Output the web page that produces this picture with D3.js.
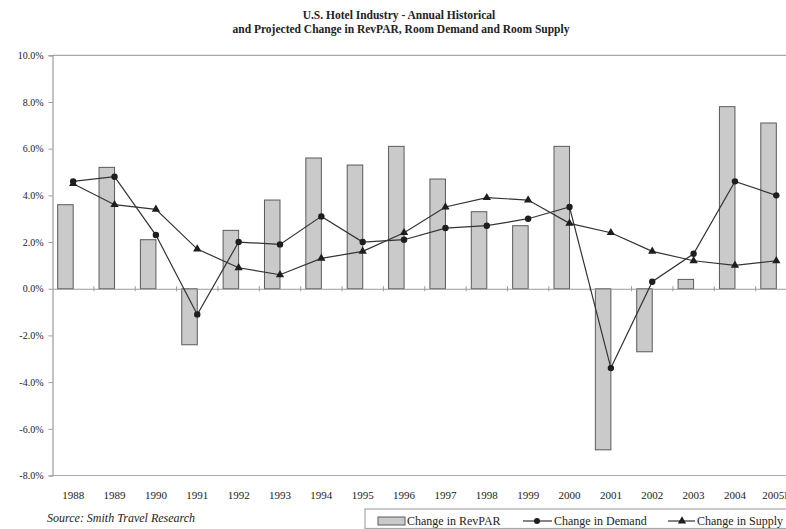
<!DOCTYPE html>
<html>
<head>
<meta charset="utf-8">
<script src="https://cdn.jsdelivr.net/npm/d3@7"></script>
<style>
  body { margin: 0; background: #fff; }
  svg { display: block; overflow: hidden; }
  text { font-family: "Liberation Serif", "Times New Roman", serif; fill: #222; }
  .axis path, .axis line { stroke: #9a9a9a; }
</style>
</head>
<body>
<div class="chart"></div>
<script>
// DATA
var years = ["1988","1989","1990","1991","1992","1993","1994","1995","1996","1997","1998","1999","2000","2001","2002","2003","2004","2005F"];
var revpar = [3.6, 5.2, 2.1, -2.4, 2.5, 3.8, 5.6, 5.3, 6.1, 4.7, 3.3, 2.7, 6.1, -6.9, -2.7, 0.4, 7.8, 7.1];
var demand = [4.6, 4.8, 2.3, -1.1, 2.0, 1.9, 3.1, 2.0, 2.1, 2.6, 2.7, 3.0, 3.5, -3.4, 0.3, 1.5, 4.6, 4.0];
var supply = [4.5, 3.6, 3.4, 1.7, 0.9, 0.6, 1.3, 1.6, 2.4, 3.5, 3.9, 3.8, 2.8, 2.4, 1.6, 1.2, 1.0, 1.2];
var yTicks = [-8, -6, -4, -2, 0, 2, 4, 6, 8, 10];
var legendLabels = ["Change in RevPAR", "Change in Demand", "Change in Supply"];

var width = 786, height = 529;
// plot area runs past the right edge, like the cropped original
var plot = {left: 52.5, right: 797, top: 55.3, bottom: 475.5};

var svg = d3.select(".chart").append("svg")
    .attr("width", width)
    .attr("height", height);

// title
var title = svg.append("text")
    .attr("text-anchor", "middle")
    .style("font-weight", "bold")
    .style("font-size", "11.5px");
title.append("tspan").attr("x", 399).attr("y", 19).text("U.S. Hotel Industry - Annual Historical");
title.append("tspan").attr("x", 401).attr("y", 33).text("and Projected Change in RevPAR, Room Demand and Room Supply");

// scales
var x = d3.scaleBand()
    .domain(years)
    .range([plot.left, plot.right]);

var y = d3.scaleLinear()
    .domain([-8, 10])
    .range([plot.bottom, plot.top]);

var barWidth = x.bandwidth() * 0.375;
var cx = function(d, i) { return x(years[i]) + x.bandwidth() / 2; };

// plot area border (top and bottom)
svg.append("line")
    .attr("x1", plot.left).attr("x2", plot.right)
    .attr("y1", y(10)).attr("y2", y(10))
    .attr("stroke", "#a8a8a8").attr("stroke-width", 1.2);
svg.append("line")
    .attr("x1", plot.left).attr("x2", plot.right)
    .attr("y1", y(-8)).attr("y2", y(-8))
    .attr("stroke", "#a8a8a8").attr("stroke-width", 1.2);

// bars
svg.selectAll(".bar")
    .data(revpar)
  .enter().append("rect")
    .attr("class", "bar")
    .attr("x", function(d, i) { return cx(d, i) - barWidth; })
    .attr("y", function(d) { return y(Math.max(0, d)); })
    .attr("width", barWidth)
    .attr("height", function(d) { return Math.abs(y(d) - y(0)); })
    .attr("fill", "#cacaca")
    .attr("stroke", "#5a5a5a")
    .attr("stroke-width", 1);

// y axis
var yAxis = svg.append("g")
    .attr("class", "axis")
    .attr("transform", "translate(" + plot.left + ",0)")
    .call(d3.axisLeft(y).tickValues(yTicks).tickSize(4).tickPadding(5)
        .tickFormat(function(d) { return d.toFixed(1) + "%"; }));
yAxis.select(".domain").attr("stroke-width", 1.2);
yAxis.selectAll("text")
    .style("font-size", "10px")
    .style("font-family", "'Liberation Serif', serif")
    .attr("fill", "#222");

// x axis on the zero line, ticks between categories crossing the line
var xAxis = svg.append("g")
    .attr("class", "axis")
    .attr("transform", "translate(0," + y(0) + ")")
    .call(d3.axisBottom(x).tickSize(0).tickFormat(""));
xAxis.select(".domain").attr("stroke-width", 1.2);
xAxis.selectAll(".sep")
    .data(years.slice(1))
  .enter().append("line")
    .attr("class", "sep")
    .attr("x1", function(d) { return x(d); })
    .attr("x2", function(d) { return x(d); })
    .attr("y1", -2.5).attr("y2", 2.5);

// year labels along the bottom
svg.selectAll(".year")
    .data(years)
  .enter().append("text")
    .attr("class", "year")
    .attr("x", function(d) { return x(d) + x.bandwidth() / 2; })
    .attr("y", 499)
    .attr("text-anchor", "middle")
    .style("font-size", "11px")
    .text(function(d) { return d; });

// lines
var line = d3.line()
    .x(function(d, i) { return cx(d, i); })
    .y(function(d) { return y(d); });

svg.append("path")
    .datum(supply)
    .attr("fill", "none")
    .attr("stroke", "#333")
    .attr("stroke-width", 1.2)
    .attr("d", line);

svg.append("path")
    .datum(demand)
    .attr("fill", "none")
    .attr("stroke", "#333")
    .attr("stroke-width", 1.2)
    .attr("d", line);

var tri = d3.symbol().type(d3.symbolTriangle).size(30);

svg.selectAll(".tri")
    .data(supply)
  .enter().append("path")
    .attr("class", "tri")
    .attr("transform", function(d, i) { return "translate(" + cx(d, i) + "," + y(d) + ")"; })
    .attr("d", tri)
    .attr("fill", "#1e1e1e");

svg.selectAll(".dot")
    .data(demand)
  .enter().append("circle")
    .attr("class", "dot")
    .attr("cx", function(d, i) { return cx(d, i); })
    .attr("cy", function(d) { return y(d); })
    .attr("r", 3.2)
    .attr("fill", "#1e1e1e");

// source note
svg.append("text")
    .attr("x", 47)
    .attr("y", 522)
    .style("font-style", "italic")
    .style("font-size", "12px")
    .text("Source: Smith Travel Research");

// legend
var legend = svg.append("g").attr("class", "legend");
legend.append("rect")
    .attr("x", 365).attr("y", 509)
    .attr("width", 440).attr("height", 19.5)
    .attr("fill", "none")
    .attr("stroke", "#a8a8a8")
    .attr("stroke-width", 1.2);

legend.append("rect")
    .attr("x", 378).attr("y", 517)
    .attr("width", 27).attr("height", 8)
    .attr("fill", "#cacaca").attr("stroke", "#5a5a5a");

legend.append("line")
    .attr("x1", 523).attr("x2", 552).attr("y1", 521).attr("y2", 521)
    .attr("stroke", "#333").attr("stroke-width", 1.2);
legend.append("circle")
    .attr("cx", 537).attr("cy", 521).attr("r", 3)
    .attr("fill", "#1e1e1e");

legend.append("line")
    .attr("x1", 668).attr("x2", 695).attr("y1", 521).attr("y2", 521)
    .attr("stroke", "#333").attr("stroke-width", 1.2);
legend.append("path")
    .attr("transform", "translate(682,521)")
    .attr("d", tri)
    .attr("fill", "#1e1e1e");

var legendX = [407, 554, 697];
legend.selectAll(".ltext")
    .data(legendLabels)
  .enter().append("text")
    .attr("class", "ltext")
    .attr("x", function(d, i) { return legendX[i]; })
    .attr("y", 525)
    .style("font-size", "12px")
    .text(function(d) { return d; });
</script>
</body>
</html>
